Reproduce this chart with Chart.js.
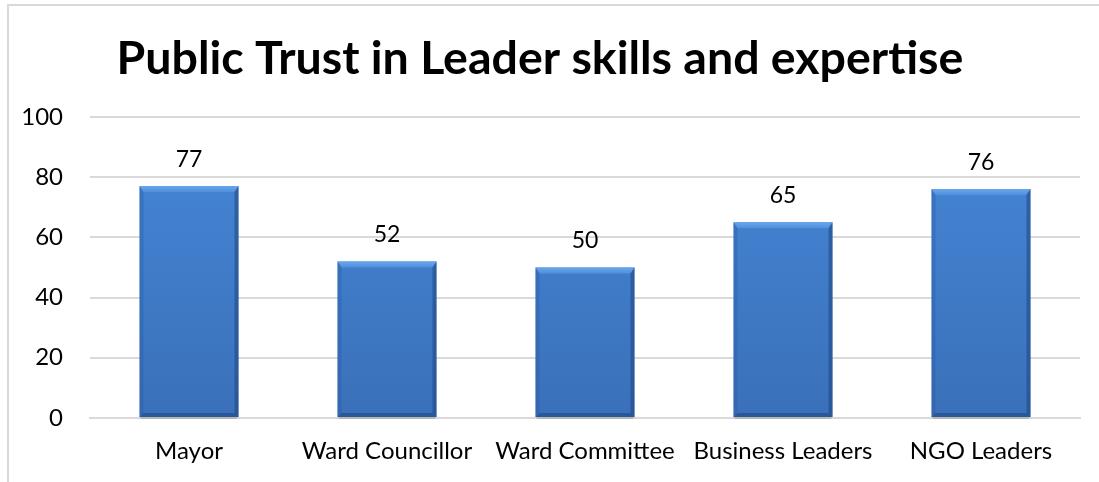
<!DOCTYPE html>
<html>
<head>
<meta charset="utf-8">
<script src="https://cdn.jsdelivr.net/npm/chart.js@4.4.1/dist/chart.umd.min.js"></script>
<style>
    html, body { margin: 0; padding: 0; background: #fff; overflow: hidden; }
    #wrap { position: relative; width: 1099px; height: 482px; }
    #frame {
        position: absolute; left: 7px; top: 4px; right: -10px; bottom: -10px;
        border: 2px solid #d9d9d9; pointer-events: none;
    }
    canvas { position: absolute; left: 0; top: 0; }
</style>
</head>
<body>
<div id="wrap">
    <canvas id="chart" width="1099" height="482"></canvas>
    <div id="frame"></div>
</div>
<script>
const TITLE = 'Public Trust in Leader skills and expertise';
const categories = ['Mayor', 'Ward Councillor', 'Ward Committee', 'Business Leaders', 'NGO Leaders'];
const trustValues = [77, 52, 50, 65, 76];
const yTicks = [0, 20, 40, 60, 80, 100];

const FONT = 'Lato, "Open Sans", sans-serif';

// bevelled bar look: flat body plus light top edge and darker sides/bottom
const bevelBars = {
    id: 'bevelBars',
    afterDatasetsDraw(chart) {
        const ctx = chart.ctx;
        const meta = chart.getDatasetMeta(0);
        meta.data.forEach(bar => {
            const { x, y, base, width } = bar.getProps(['x', 'y', 'base', 'width'], true);
            const l = x - width / 2, r = x + width / 2, t = y, b = base;
            const bt = 6, bs = 4, bb = 4;
            ctx.save();
            // top edge
            const tg = ctx.createLinearGradient(0, t, 0, t + bt);
            tg.addColorStop(0, '#6aa6ea');
            tg.addColorStop(1, '#4f90dc');
            ctx.fillStyle = tg;
            ctx.beginPath();
            ctx.moveTo(l, t); ctx.lineTo(r, t); ctx.lineTo(r - bs, t + bt); ctx.lineTo(l + bs, t + bt);
            ctx.closePath(); ctx.fill();
            // left edge
            ctx.fillStyle = 'rgba(40, 90, 160, 0.35)';
            ctx.beginPath();
            ctx.moveTo(l, t); ctx.lineTo(l + bs, t + bt); ctx.lineTo(l + bs, b - bb); ctx.lineTo(l, b);
            ctx.closePath(); ctx.fill();
            // right edge
            ctx.fillStyle = 'rgba(30, 70, 130, 0.55)';
            ctx.beginPath();
            ctx.moveTo(r, t); ctx.lineTo(r - bs, t + bt); ctx.lineTo(r - bs, b - bb); ctx.lineTo(r, b);
            ctx.closePath(); ctx.fill();
            // bottom edge
            ctx.fillStyle = 'rgba(30, 70, 130, 0.6)';
            ctx.beginPath();
            ctx.moveTo(l, b); ctx.lineTo(l + bs, b - bb); ctx.lineTo(r - bs, b - bb); ctx.lineTo(r, b);
            ctx.closePath(); ctx.fill();
            // soft shadow under the bar
            ctx.fillStyle = 'rgba(120, 120, 120, 0.35)';
            ctx.fillRect(l + 1, b, width - 2, 2);
            ctx.restore();
        });
    }
};

// numbers above each bar
const valueLabels = {
    id: 'valueLabels',
    afterDatasetsDraw(chart) {
        const ctx = chart.ctx;
        const ds = chart.data.datasets[0];
        const meta = chart.getDatasetMeta(0);
        ctx.save();
        ctx.font = '23px ' + FONT;
        ctx.fillStyle = '#000';
        ctx.textAlign = 'center';
        ctx.textBaseline = 'alphabetic';
        meta.data.forEach((bar, i) => {
            ctx.fillText(String(ds.data[i]), bar.x, bar.y - 19);
        });
        ctx.restore();
    }
};

const canvas = document.getElementById('chart');
const ctx = canvas.getContext('2d');

new Chart(ctx, {
    type: 'bar',
    data: {
        labels: categories,
        datasets: [{
            label: 'Trust',
            data: trustValues,
            backgroundColor: c => {
                const area = c.chart.chartArea;
                if (!area) return '#3f7ccb';
                const g = c.chart.ctx.createLinearGradient(0, area.top, 0, area.bottom);
                g.addColorStop(0, '#4688d8');
                g.addColorStop(1, '#3a70b9');
                return g;
            },
            borderWidth: 0,
            barPercentage: 0.5,
            categoryPercentage: 1.0
        }]
    },
    options: {
        responsive: false,
        animation: false,
        layout: { padding: { left: 0, right: 19, top: 0, bottom: 0 } },
        plugins: {
            legend: { display: false },
            tooltip: { enabled: false },
            title: {
                display: true,
                text: TITLE,
                color: '#000',
                font: { family: FONT, size: 46.5, weight: 'bold', lineHeight: 1.2 },
                padding: { top: 31, bottom: 30 }
            }
        },
        scales: {
            x: {
                afterFit: s => { s.height = 64; },
                grid: { display: false, drawTicks: false },
                border: { display: true, color: '#d9d9d9', width: 2 },
                ticks: { color: '#000', font: { family: FONT, size: 24, lineHeight: 1.0 }, padding: 21, maxRotation: 0 }
            },
            y: {
                min: 0,
                max: 100,
                afterBuildTicks: s => { s.ticks = yTicks.map(v => ({ value: v })); },
                afterFit: s => { s.width = 90; },
                grid: { color: '#d9d9d9', lineWidth: 2, drawTicks: false },
                border: { display: false },
                ticks: { color: '#000', font: { family: FONT, size: 24 }, padding: 27 }
            }
        }
    },
    plugins: [bevelBars, valueLabels]
});
</script>
</body>
</html>
